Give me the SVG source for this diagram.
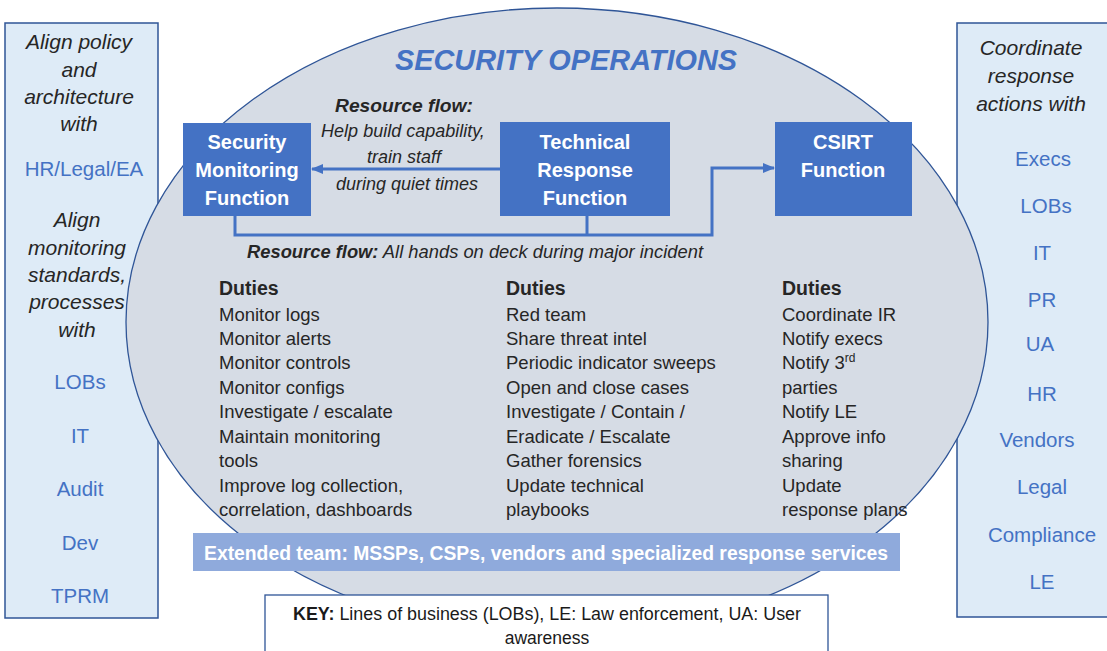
<svg xmlns="http://www.w3.org/2000/svg" width="1107" height="651" viewBox="0 0 1107 651">
<defs>
<style>
.side{fill:#DEEBF7;stroke:#2F5597;stroke-width:1.5}
.fn{fill:#4472C4}
.fnt{font-family:"Liberation Sans",Arial,sans-serif;font-weight:bold;font-size:20px;fill:#ffffff;text-anchor:middle}
.it{font-family:"Liberation Sans",Arial,sans-serif;font-style:italic;font-size:21px;fill:#262626;text-anchor:middle}
.bl{font-family:"Liberation Sans",Arial,sans-serif;font-size:20.5px;fill:#4472C4;text-anchor:middle}
.fl{font-family:"Liberation Sans",Arial,sans-serif;font-style:italic;font-size:18px;fill:#262626}
.du{font-family:"Liberation Sans",Arial,sans-serif;font-size:18.5px;fill:#262626}
.dh{font-weight:bold;font-size:19.5px}
.con{fill:none;stroke:#4472C4;stroke-width:3}
</style>
<marker id="ah" markerWidth="12" markerHeight="10" refX="11" refY="5" orient="auto" markerUnits="userSpaceOnUse">
<path d="M0,0 L12,5 L0,10 Z" fill="#4472C4"/>
</marker>
</defs>
<rect width="1107" height="651" fill="#ffffff"/>

<g id="left-panel">
<rect class="side" x="5" y="23" width="153" height="595"/>
<text class="it" x="79" y="49">Align policy</text>
<text class="it" x="79" y="77">and</text>
<text class="it" x="79" y="104">architecture</text>
<text class="it" x="79" y="131">with</text>
<text class="bl" x="84" y="176">HR/Legal/EA</text>
<text class="it" x="77" y="227">Align</text>
<text class="it" x="77" y="255">monitoring</text>
<text class="it" x="77" y="282">standards,</text>
<text class="it" x="77" y="309">processes</text>
<text class="it" x="77" y="337">with</text>
<text class="bl" x="80" y="389">LOBs</text>
<text class="bl" x="80" y="443">IT</text>
<text class="bl" x="80" y="496">Audit</text>
<text class="bl" x="80" y="550">Dev</text>
<text class="bl" x="80" y="603">TPRM</text>
</g>

<g id="right-panel">
<rect class="side" x="957" y="23" width="155" height="594"/>
<text class="it" x="1031" y="55">Coordinate</text>
<text class="it" x="1031" y="83">response</text>
<text class="it" x="1031" y="111">actions with</text>
<text class="bl" x="1043" y="166">Execs</text>
<text class="bl" x="1046" y="213">LOBs</text>
<text class="bl" x="1042" y="260">IT</text>
<text class="bl" x="1042" y="307">PR</text>
<text class="bl" x="1040" y="351">UA</text>
<text class="bl" x="1042" y="401">HR</text>
<text class="bl" x="1037" y="447">Vendors</text>
<text class="bl" x="1042" y="494">Legal</text>
<text class="bl" x="1042" y="542">Compliance</text>
<text class="bl" x="1042" y="589">LE</text>
</g>

<g id="security-operations">
<ellipse cx="557" cy="322" rx="431" ry="314" fill="#D6DCE5" stroke="#2F5597" stroke-width="1.3"/>
<text x="566" y="70" font-family="Liberation Sans,Arial,sans-serif" font-weight="bold" font-style="italic" font-size="29" fill="#4472C4" text-anchor="middle" textLength="342" lengthAdjust="spacingAndGlyphs">SECURITY OPERATIONS</text>
</g>

<g id="connectors">
<line class="con" x1="500" y1="169" x2="312" y2="169" marker-end="url(#ah)"/>
<polyline class="con" points="235,216 235,235 712,235 712,168 774,168" marker-end="url(#ah)"/>
<line class="con" x1="587" y1="216" x2="587" y2="235"/>
</g>

<g id="flow-labels">
<text class="fl" x="404" y="112" text-anchor="middle" font-weight="bold" textLength="138" lengthAdjust="spacingAndGlyphs">Resource flow:</text>
<text class="fl" x="403" y="137" text-anchor="middle">Help build capability,</text>
<text class="fl" x="404" y="163" text-anchor="middle">train staff</text>
<text class="fl" x="407" y="190" text-anchor="middle">during quiet times</text>
<text class="fl" x="247" y="258" textLength="456" lengthAdjust="spacingAndGlyphs"><tspan font-weight="bold">Resource flow:</tspan> All hands on deck during major incident</text>
</g>

<g id="security-monitoring">
<rect class="fn" x="183" y="123" width="128" height="93"/>
<text class="fnt" x="247" y="149">Security</text>
<text class="fnt" x="247" y="177">Monitoring</text>
<text class="fnt" x="247" y="205">Function</text>
</g>

<g id="technical-response">
<rect class="fn" x="500" y="122" width="170" height="94"/>
<text class="fnt" x="585" y="149">Technical</text>
<text class="fnt" x="585" y="177">Response</text>
<text class="fnt" x="585" y="205">Function</text>
</g>

<g id="csirt">
<rect class="fn" x="775" y="122" width="137" height="94"/>
<text class="fnt" x="843" y="149">CSIRT</text>
<text class="fnt" x="843" y="177">Function</text>
</g>

<g id="duties-monitoring">
<text class="du dh" x="219" y="295">Duties</text>
<text class="du" x="219" y="321">Monitor logs</text>
<text class="du" x="219" y="345">Monitor alerts</text>
<text class="du" x="219" y="369">Monitor controls</text>
<text class="du" x="219" y="394">Monitor configs</text>
<text class="du" x="219" y="418">Investigate / escalate</text>
<text class="du" x="219" y="443">Maintain monitoring</text>
<text class="du" x="219" y="467">tools</text>
<text class="du" x="219" y="492">Improve log collection,</text>
<text class="du" x="219" y="516">correlation, dashboards</text>
</g>

<g id="duties-technical">
<text class="du dh" x="506" y="295">Duties</text>
<text class="du" x="506" y="321">Red team</text>
<text class="du" x="506" y="345">Share threat intel</text>
<text class="du" x="506" y="369">Periodic indicator sweeps</text>
<text class="du" x="506" y="394">Open and close cases</text>
<text class="du" x="506" y="418">Investigate / Contain /</text>
<text class="du" x="506" y="443">Eradicate / Escalate</text>
<text class="du" x="506" y="467">Gather forensics</text>
<text class="du" x="506" y="492">Update technical</text>
<text class="du" x="506" y="516">playbooks</text>
</g>

<g id="duties-csirt">
<text class="du dh" x="782" y="295">Duties</text>
<text class="du" x="782" y="321">Coordinate IR</text>
<text class="du" x="782" y="345">Notify execs</text>
<text class="du" x="782" y="369">Notify 3<tspan font-size="12" dy="-7">rd</tspan></text>
<text class="du" x="782" y="394">parties</text>
<text class="du" x="782" y="418">Notify LE</text>
<text class="du" x="782" y="443">Approve info</text>
<text class="du" x="782" y="467">sharing</text>
<text class="du" x="782" y="492">Update</text>
<text class="du" x="782" y="516">response plans</text>
</g>

<g id="extended-team">
<rect x="193" y="533" width="707" height="38" fill="#8FAADC"/>
<text x="546" y="560" font-family="Liberation Sans,Arial,sans-serif" font-weight="bold" font-size="19.5" fill="#ffffff" text-anchor="middle" textLength="684" lengthAdjust="spacingAndGlyphs">Extended team: MSSPs, CSPs, vendors and specialized response services</text>
</g>

<g id="key">
<rect x="265" y="595" width="563" height="70" fill="#ffffff" stroke="#2F5597" stroke-width="1.3"/>
<text x="547" y="620" font-family="Liberation Sans,Arial,sans-serif" font-size="17.5" fill="#1a1a1a" text-anchor="middle" textLength="508" lengthAdjust="spacingAndGlyphs"><tspan font-weight="bold">KEY:</tspan> Lines of business (LOBs), LE: Law enforcement, UA: User</text>
<text x="547" y="644" font-family="Liberation Sans,Arial,sans-serif" font-size="17.5" fill="#1a1a1a" text-anchor="middle">awareness</text>
</g>
</svg>
